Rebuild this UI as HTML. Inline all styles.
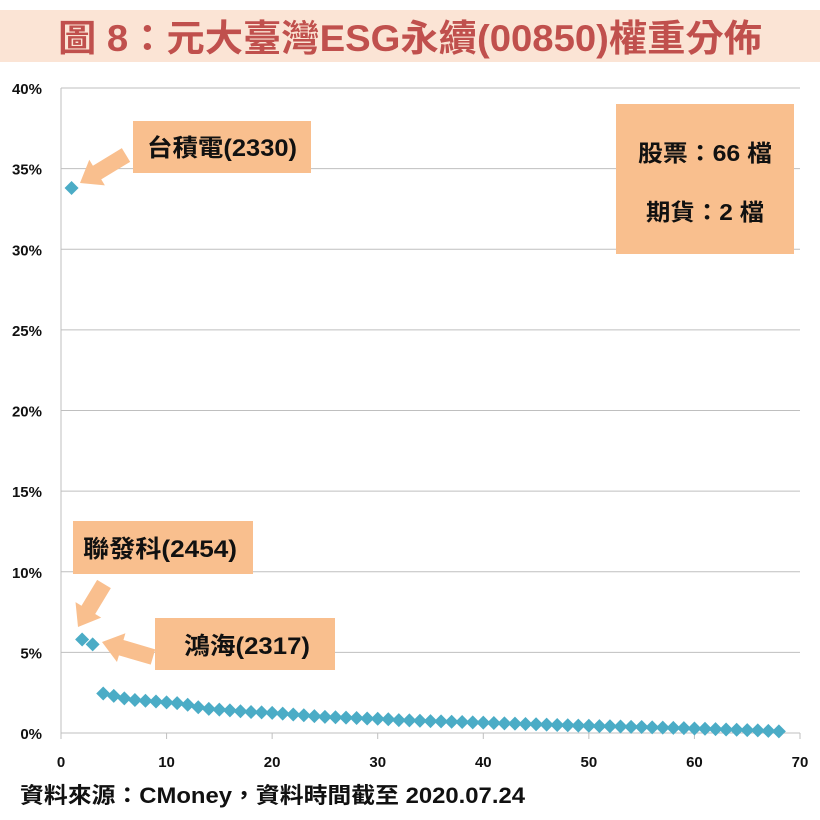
<!DOCTYPE html>
<html><head><meta charset="utf-8"><style>
body{margin:0;background:#fff;width:820px;height:820px;overflow:hidden}
svg{display:block;font-family:"Liberation Sans","Noto Sans CJK TC",sans-serif}
</style></head><body>
<svg width="820" height="820">
<rect x="0" y="10" width="820" height="52" fill="#fbe4d5"/>
<text x="410" y="51" text-anchor="middle" font-size="37" font-weight="bold" fill="#c0504d" textLength="704" lengthAdjust="spacingAndGlyphs">圖 8：元大臺灣ESG永續(00850)權重分佈</text>
<g id="grid"></g><g id="axes"></g><g id="pts"></g>
<g fill="#f9bf8e">
<rect x="133" y="121" width="178" height="52"/>
<text x="222" y="156" text-anchor="middle" font-size="24" font-weight="bold" fill="#111" textLength="150" lengthAdjust="spacingAndGlyphs">台積電(2330)</text>
<rect x="73" y="521" width="180" height="53"/>
<text x="160" y="557" text-anchor="middle" font-size="24" font-weight="bold" fill="#111" textLength="154" lengthAdjust="spacingAndGlyphs">聯發科(2454)</text>
<rect x="155" y="618" width="180" height="52"/>
<text x="247" y="654" text-anchor="middle" font-size="24" font-weight="bold" fill="#111" textLength="126" lengthAdjust="spacingAndGlyphs">鴻海(2317)</text>
<rect x="616" y="104" width="178" height="150"/>
<text x="705" y="161" text-anchor="middle" font-size="23" font-weight="bold" fill="#111" textLength="134" lengthAdjust="spacingAndGlyphs">股票：66 檔</text>
<text x="705" y="220" text-anchor="middle" font-size="23" font-weight="bold" fill="#111" textLength="118" lengthAdjust="spacingAndGlyphs">期貨：2 檔</text>
</g>
<g id="arrows" fill="#f9bf8e"></g>
<text x="20" y="803" font-size="22" font-weight="bold" fill="#111" textLength="505" lengthAdjust="spacingAndGlyphs">資料來源：CMoney，資料時間截至 2020.07.24</text>
</svg>
<script>
const xTicks=[0,10,20,30,40,50,60,70];
const yTicks=[0,5,10,15,20,25,30,35,40];
const ranks=[];for(let i=1;i<=68;i++)ranks.push(i);
const weights=[33.8,5.8,5.5,2.45,2.3,2.15,2.05,2.0,1.95,1.9,1.85,1.75,1.6,1.5,1.45,1.4,1.35,1.3,1.28,1.25,1.2,1.15,1.1,1.05,1.0,0.98,0.95,0.93,0.9,0.88,0.85,0.8,0.78,0.76,0.74,0.72,0.7,0.68,0.66,0.64,0.62,0.6,0.58,0.56,0.54,0.52,0.5,0.48,0.46,0.45,0.43,0.42,0.4,0.38,0.37,0.35,0.33,0.32,0.3,0.28,0.26,0.24,0.22,0.2,0.18,0.16,0.13,0.1];
const NS="http://www.w3.org/2000/svg";
const X=v=>61+v*(739/70), Y=v=>733-v*(645/40);
function mk(t,a,p){const e=document.createElementNS(NS,t);for(const k in a)e.setAttribute(k,a[k]);p.appendChild(e);return e;}
const g=document.getElementById('grid'),ax=document.getElementById('axes'),pts=document.getElementById('pts'),ar=document.getElementById('arrows');
yTicks.forEach(t=>{
 const l=mk('line',{x1:61,x2:800,y1:Y(t),y2:Y(t),stroke:'#bfbfbf','stroke-width':1},g);
 
 
 const tx=mk('text',{x:42,y:Y(t)+6,'text-anchor':'end','font-size':15,'font-weight':'bold',fill:'#111'},ax);
 tx.textContent=t+'%';
 
 
});
const va=mk('line',{x1:61,x2:61,y1:88,y2:733,stroke:'#bfbfbf'},ax);


xTicks.forEach(t=>{
 const l=mk('line',{x1:X(t),x2:X(t),y1:733,y2:739,stroke:'#bfbfbf'},ax);
 
 
 const tx=mk('text',{x:X(t),y:767,'text-anchor':'middle','font-size':15,'font-weight':'bold',fill:'#111'},ax);
 tx.textContent=t;
 
 
});
ranks.forEach((r,i)=>{
 const cx=X(r),cy=Y(weights[i]),s=7;
 const p=mk('polygon',{points:`${cx},${cy-s} ${cx+s},${cy} ${cx},${cy+s} ${cx-s},${cy}`,fill:'#4bacc6'},pts);
 
 
});
function arrow(x1,y1,x2,y2,name){
 const dx=x2-x1,dy=y2-y1,L=Math.hypot(dx,dy),ux=dx/L,uy=dy/L,nx=-uy,ny=ux,w=8,hw=15,hl=20;
 const bx=x2-ux*hl,by=y2-uy*hl;
 const P=[[x1+nx*w,y1+ny*w],[bx+nx*w,by+ny*w],[bx+nx*hw,by+ny*hw],[x2,y2],[bx-nx*hw,by-ny*hw],[bx-nx*w,by-ny*w],[x1-nx*w,y1-ny*w]];
 const p=mk('polygon',{points:P.map(q=>q.join(',')).join(' ')},ar);
 
 
}
arrow(126,155,80,183,'arrow-tsmc');
arrow(104,584,78,627,'arrow-mediatek');
arrow(153,657,102,642,'arrow-honhai');
</script>
</body></html>
